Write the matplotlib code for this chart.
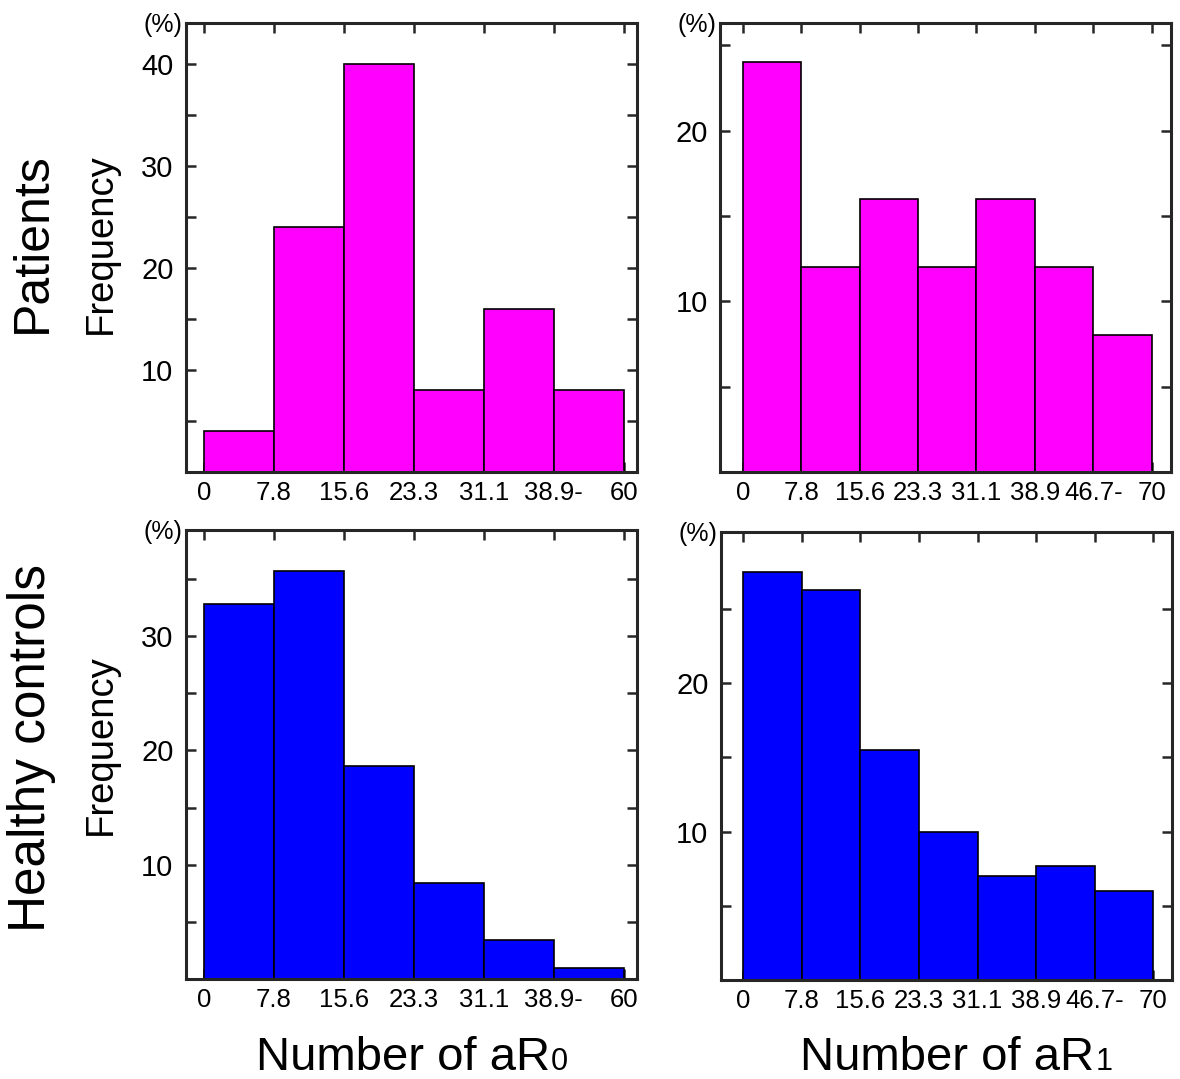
import matplotlib
matplotlib.use('Agg')
import matplotlib.pyplot as plt
from matplotlib.ticker import FixedLocator
import matplotlib.transforms as mtransforms

plt.rcParams['font.family'] = ['Liberation Sans', 'DejaVu Sans']

# ---------------- data ----------------
ar0_bin_labels = ['0', '7.8', '15.6', '23.3', '31.1', '38.9-', '60']
ar1_bin_labels = ['0', '7.8', '15.6', '23.3', '31.1', '38.9', '46.7-', '70']

patients_ar0 = [4, 24, 40, 8, 16, 8]
patients_ar1 = [24, 12, 16, 12, 16, 12, 8]
controls_ar0 = [32.8, 35.7, 18.6, 8.4, 3.4, 1.0]
controls_ar1 = [27.5, 26.3, 15.5, 10.0, 7.0, 7.7, 6.0]

row_labels = ['Patients', 'Healthy controls']
x_title_main = 'Number of aR'
x_title_subs = ['0', '1']

yticks_major = {
    'TL': [10, 20, 30, 40], 'TR': [10, 20],
    'BL': [10, 20, 30], 'BR': [10, 20],
}
yticks_minor = {
    'TL': [5, 15, 25, 35], 'TR': [5, 15, 25],
    'BL': [5, 15, 25, 35], 'BR': [5, 15, 25],
}

# ---------------- layout / style ----------------
W, H = 1180, 1079
fig = plt.figure(figsize=(W / 100, H / 100), dpi=100)

magenta = '#FF00FF'
blue = '#0000FF'
spine_col = '#262626'

panels = [
    # key, rect, values, labels, color, xlim, ylim
    ('TL', [0.1576, 0.5626, 0.3822, 0.4161], patients_ar0, ar0_bin_labels, magenta, (-0.257, 6.19), (0, 44.0)),
    ('TR', [0.6102, 0.5626, 0.3822, 0.4161], patients_ar1, ar1_bin_labels, magenta, (-0.39, 7.33), (0, 26.3)),
    ('BL', [0.1576, 0.0927, 0.3822, 0.4161], controls_ar0, ar0_bin_labels, blue, (-0.257, 6.19), (0, 39.3)),
    ('BR', [0.6110, 0.0918, 0.3822, 0.4152], controls_ar1, ar1_bin_labels, blue, (-0.38, 7.32), (0, 30.2)),
]

for key, rect, vals, labels, col, xl, yl in panels:
    ax = fig.add_axes(rect)
    ax.bar(range(len(vals)), vals, width=1.0, align='edge', color=col,
           edgecolor='black', linewidth=1.2, zorder=3)
    ax.set_xlim(*xl)
    ax.set_ylim(*yl)
    ax.set_xticks(range(len(labels)))
    ax.set_xticklabels(labels, fontsize=18.5)
    ax.yaxis.set_major_locator(FixedLocator(yticks_major[key]))
    ax.yaxis.set_minor_locator(FixedLocator(yticks_minor[key]))
    ax.tick_params(axis='y', which='major', labelsize=21, pad=9)
    ax.tick_params(axis='x', which='major', pad=6.5)
    ax.tick_params(which='both', direction='in', length=7.5, width=1.8,
                   top=True, right=True, color=spine_col)
    for sp in ax.spines.values():
        sp.set_linewidth(2.2)
        sp.set_color(spine_col)
        sp.set_zorder(5)
    trans = mtransforms.offset_copy(ax.transAxes, fig=fig, x=-4, y=-2, units='dots')
    ax.text(0, 1, '(%)', transform=trans, ha='right', va='center', fontsize=18)

# row labels
fig.text(33 / W, 1 - 243 / H, row_labels[0], rotation=90, ha='center', va='center', fontsize=36)
fig.text(32 / W, 1 - 748 / H, row_labels[1], rotation=90, ha='center', va='center', fontsize=37)
fig.text(101 / W, 1 - 244 / H, 'Frequency', rotation=90, ha='center', va='center', fontsize=27.5)
fig.text(101 / W, 1 - 745 / H, 'Frequency', rotation=90, ha='center', va='center', fontsize=27.5)

# x titles with small trailing digit
renderer = fig.canvas.get_renderer()
for left_px, sub in zip([256, 800], x_title_subs):
    t = fig.text(left_px / W, (H - 1070) / H, x_title_main, ha='left', va='baseline', fontsize=34)
    bb = t.get_window_extent(renderer=renderer)
    fig.text((bb.x1 + 1) / W, (H - 1070) / H, sub, ha='left', va='baseline', fontsize=22)

fig.savefig('out.png', dpi=100)
